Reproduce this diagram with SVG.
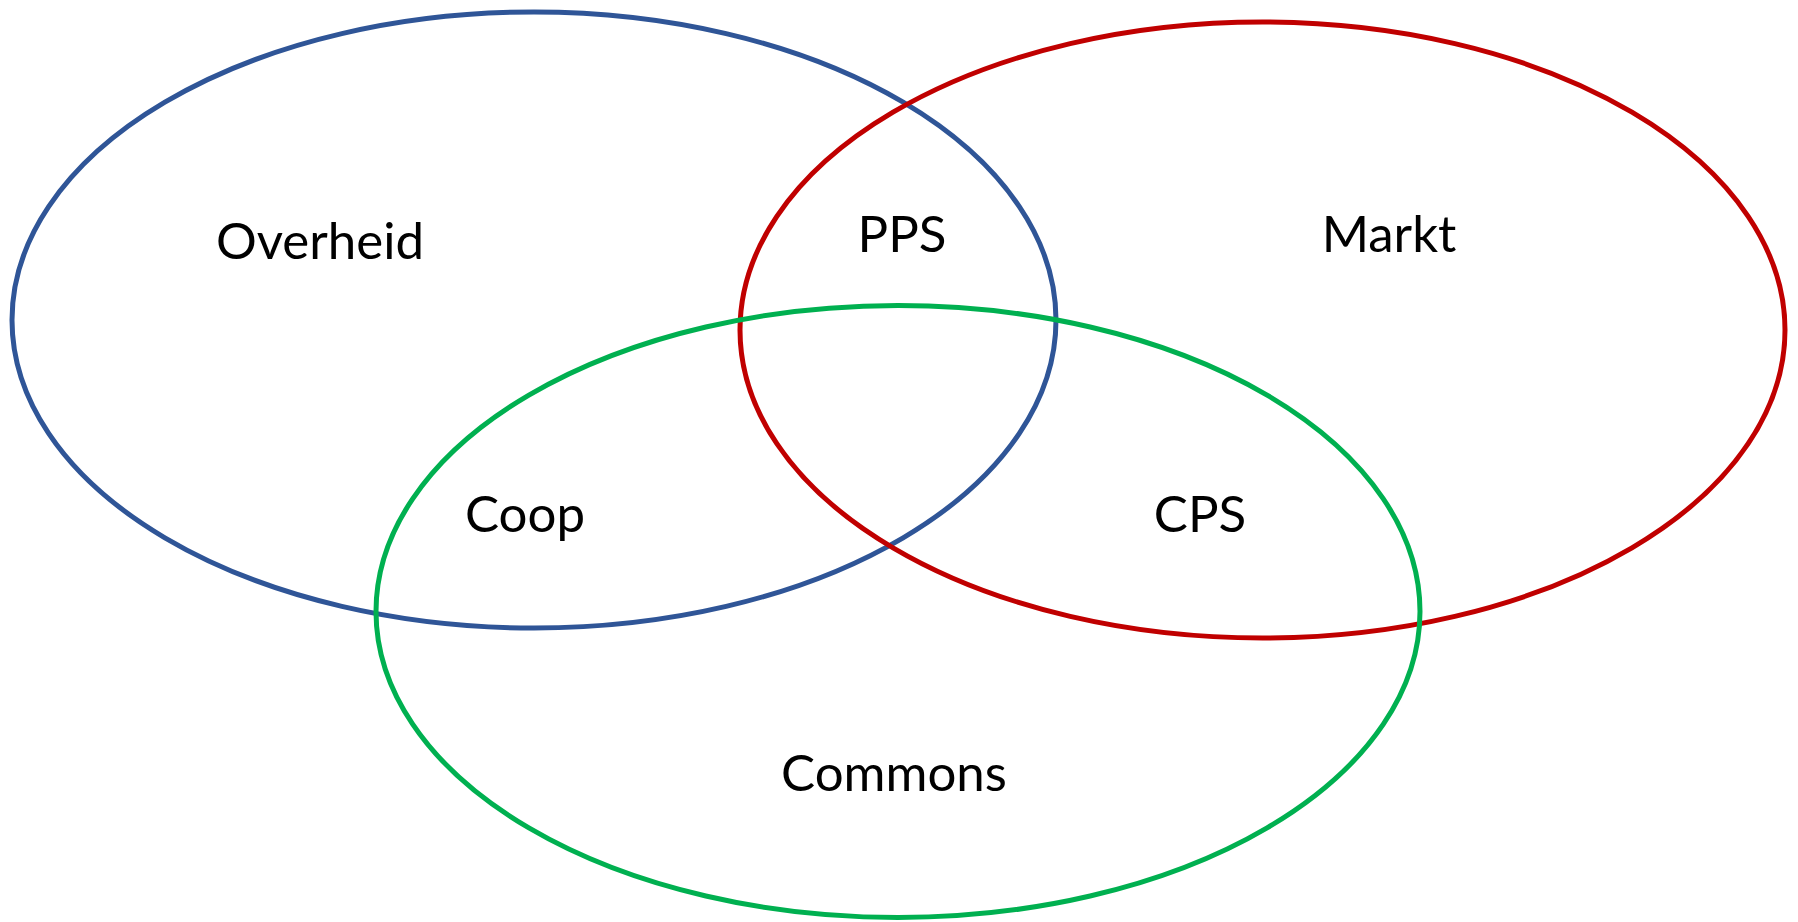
<svg xmlns="http://www.w3.org/2000/svg" width="1798" height="922" viewBox="0 0 1798 922">
<style>
.set{fill:none;stroke-width:5}
.lbl{font-family:Lato,"Open Sans","Liberation Sans",sans-serif;font-size:51px;fill:#000;text-anchor:middle}
</style>
<rect width="1798" height="922" fill="#fff"/>
<g id="overheid"><ellipse class="set" cx="534" cy="320" rx="522" ry="308" stroke="#2F5597"/></g>
<g id="markt"><ellipse class="set" cx="1262.5" cy="330" rx="522.5" ry="308" stroke="#C00000"/></g>
<g id="commons"><ellipse class="set" cx="898" cy="611.5" rx="522" ry="306" stroke="#00B050"/></g>
<g id="labels">
<text class="lbl" x="320" y="259">Overheid</text>
<text class="lbl" x="902" y="252">PPS</text>
<text class="lbl" x="1389" y="252">Markt</text>
<text class="lbl" x="525" y="532">Coop</text>
<text class="lbl" x="1200" y="532">CPS</text>
<text class="lbl" x="894" y="791">Commons</text>
</g>
<g id="connectors"/>
</svg>
